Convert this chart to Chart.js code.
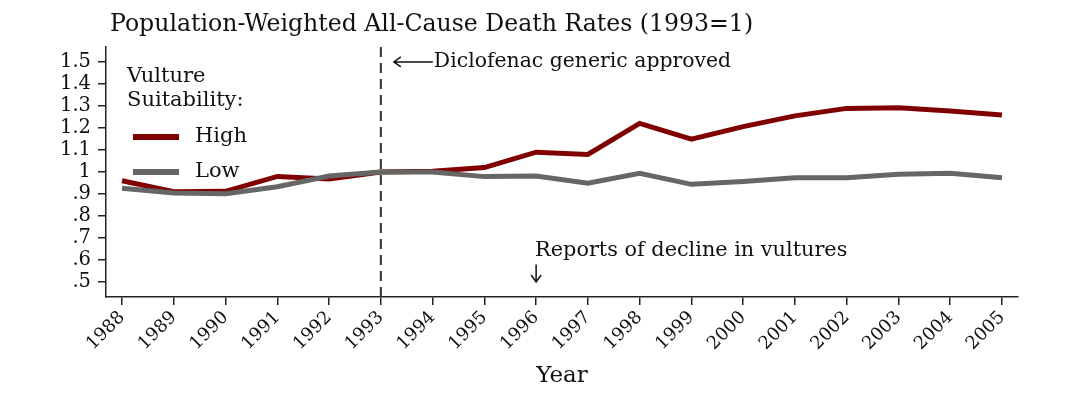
<!doctype html>
<html lang="en">
    <head>
        <meta charset="UTF-8" />
        <title>Death rates</title>
        <style>
            html, body { margin: 0; padding: 0; background: #fff; }
            #wrap { width: 1080px; height: 395px; }
        </style>
    </head>
    <body>
        <div id="wrap"><canvas id="chart"></canvas></div>

        <script src="https://cdn.jsdelivr.net/npm/chart.js"></script>
        <script>
            const years = [1988, 1989, 1990, 1991, 1992, 1993, 1994, 1995, 1996, 1997, 1998, 1999, 2000, 2001, 2002, 2003, 2004, 2005];
            const highSuit = [0.96, 0.91, 0.912, 0.98, 0.968, 1.0, 1.003, 1.02, 1.09, 1.08, 1.221, 1.149, 1.206, 1.255, 1.289, 1.292, 1.277, 1.259];
            const lowSuit = [0.926, 0.905, 0.901, 0.933, 0.982, 1.0, 1.0, 0.979, 0.982, 0.949, 0.994, 0.944, 0.957, 0.974, 0.974, 0.99, 0.994, 0.974];
            const yTicks = [0.5, 0.6, 0.7, 0.8, 0.9, 1.0, 1.1, 1.2, 1.3, 1.4, 1.5];

            const serif = "'DejaVu Serif', 'Liberation Serif', serif";
            const maroon = "#800000";
            const grey = "#666666";

            // annotations, legend and title drawn on top of the chart
            const overlay = {
                id: "overlay",
                afterDraw(chart) {
                    const ctx = chart.ctx;
                    const x = chart.scales.x;
                    const y = chart.scales.y;
                    const area = chart.chartArea;
                    ctx.save();

                    // dashed line at 1993
                    const x93 = x.getPixelForValue(1993);
                    ctx.strokeStyle = "#333";
                    ctx.lineWidth = 2;
                    ctx.setLineDash([10, 6]);
                    ctx.beginPath();
                    ctx.moveTo(x93, area.top);
                    ctx.lineTo(x93, area.bottom);
                    ctx.stroke();
                    ctx.setLineDash([]);

                    ctx.fillStyle = "#111";
                    ctx.textBaseline = "middle";

                    // title
                    ctx.font = "23.6px " + serif;
                    ctx.fillText("Population-Weighted All-Cause Death Rates (1993=1)", 110, 25);

                    // diclofenac arrow
                    const ay = y.getPixelForValue(1.5);
                    ctx.strokeStyle = "#111";
                    ctx.lineWidth = 1.5;
                    ctx.beginPath();
                    ctx.moveTo(x93 + 52, ay);
                    ctx.lineTo(x93 + 13, ay);
                    ctx.moveTo(x93 + 20, ay - 5);
                    ctx.lineTo(x93 + 13, ay);
                    ctx.lineTo(x93 + 20, ay + 5);
                    ctx.stroke();
                    ctx.font = "20.4px " + serif;
                    ctx.fillText("Diclofenac generic approved", x93 + 53, ay);

                    // reports arrow
                    const x96 = x.getPixelForValue(1996);
                    ctx.font = "20.8px " + serif;
                    ctx.fillText("Reports of decline in vultures", x96 - 1, y.getPixelForValue(0.645));
                    const t = y.getPixelForValue(0.58);
                    const b = y.getPixelForValue(0.5);
                    ctx.beginPath();
                    ctx.moveTo(x96, t);
                    ctx.lineTo(x96, b);
                    ctx.moveTo(x96 - 5, b - 7);
                    ctx.lineTo(x96, b);
                    ctx.lineTo(x96 + 5, b - 7);
                    ctx.stroke();

                    // legend
                    ctx.font = "21px " + serif;
                    ctx.fillText("Vulture", 127, 77);
                    ctx.fillText("Suitability:", 127, 101);
                    ctx.lineWidth = 6;
                    ctx.strokeStyle = maroon;
                    ctx.beginPath();
                    ctx.moveTo(133, 137);
                    ctx.lineTo(179, 137);
                    ctx.stroke();
                    ctx.strokeStyle = grey;
                    ctx.beginPath();
                    ctx.moveTo(133, 172);
                    ctx.lineTo(179, 172);
                    ctx.stroke();
                    ctx.fillText("High", 195, 137);
                    ctx.fillText("Low", 195, 172);

                    ctx.restore();
                },
            };

            const axisColor = "#222";

            new Chart(document.getElementById("chart"), {
                type: "line",
                data: {
                    datasets: [
                        {
                            label: "Low",
                            data: years.map((yr, i) => ({ x: yr, y: lowSuit[i] })),
                            borderColor: grey,
                            borderWidth: 5,
                            pointRadius: 0,
                            tension: 0,
                        },
                        {
                            label: "High",
                            data: years.map((yr, i) => ({ x: yr, y: highSuit[i] })),
                            borderColor: maroon,
                            borderWidth: 5,
                            pointRadius: 0,
                            tension: 0,
                        },
                    ],
                },
                options: {
                    responsive: true,
                    maintainAspectRatio: false,
                    animation: false,
                    layout: { padding: { top: 47, right: 62, left: 0, bottom: 0 } },
                    plugins: { legend: { display: false }, tooltip: { enabled: false } },
                    scales: {
                        x: {
                            type: "linear",
                            min: 1987.69,
                            max: 2005.31,
                            afterBuildTicks: (s) => { s.ticks = years.map((v) => ({ value: v })); },
                            afterFit: (s) => { s.height = 98; },
                            ticks: {
                                color: "#111",
                                font: { family: serif, size: 18 },
                                minRotation: 45,
                                maxRotation: 45,
                                autoSkip: false,
                                padding: 2,
                                callback: (v) => String(v),
                            },
                            grid: { drawOnChartArea: false, tickLength: 8, color: axisColor, lineWidth: 1.5 },
                            border: { color: axisColor, width: 1.5 },
                            title: {
                                display: true,
                                text: "Year",
                                color: "#111",
                                font: { family: serif, size: 23 },
                                padding: { top: 0, bottom: 5 },
                            },
                        },
                        y: {
                            min: 0.432,
                            max: 1.568,
                            afterBuildTicks: (s) => { s.ticks = yTicks.map((v) => ({ value: v })); },
                            afterFit: (s) => { s.width = 106; },
                            ticks: {
                                color: "#111",
                                font: { family: serif, size: 19.5 },
                                padding: 7,
                                autoSkip: false,
                                callback: (v) => {
                                    const s = (Math.round(v * 10) / 10).toString();
                                    return s.startsWith("0.") ? s.slice(1) : s;
                                },
                            },
                            grid: { drawOnChartArea: false, tickLength: 8, color: axisColor, lineWidth: 1.5 },
                            border: { color: axisColor, width: 1.5 },
                        },
                    },
                },
                plugins: [overlay],
            });
        </script>
    </body>
</html>
